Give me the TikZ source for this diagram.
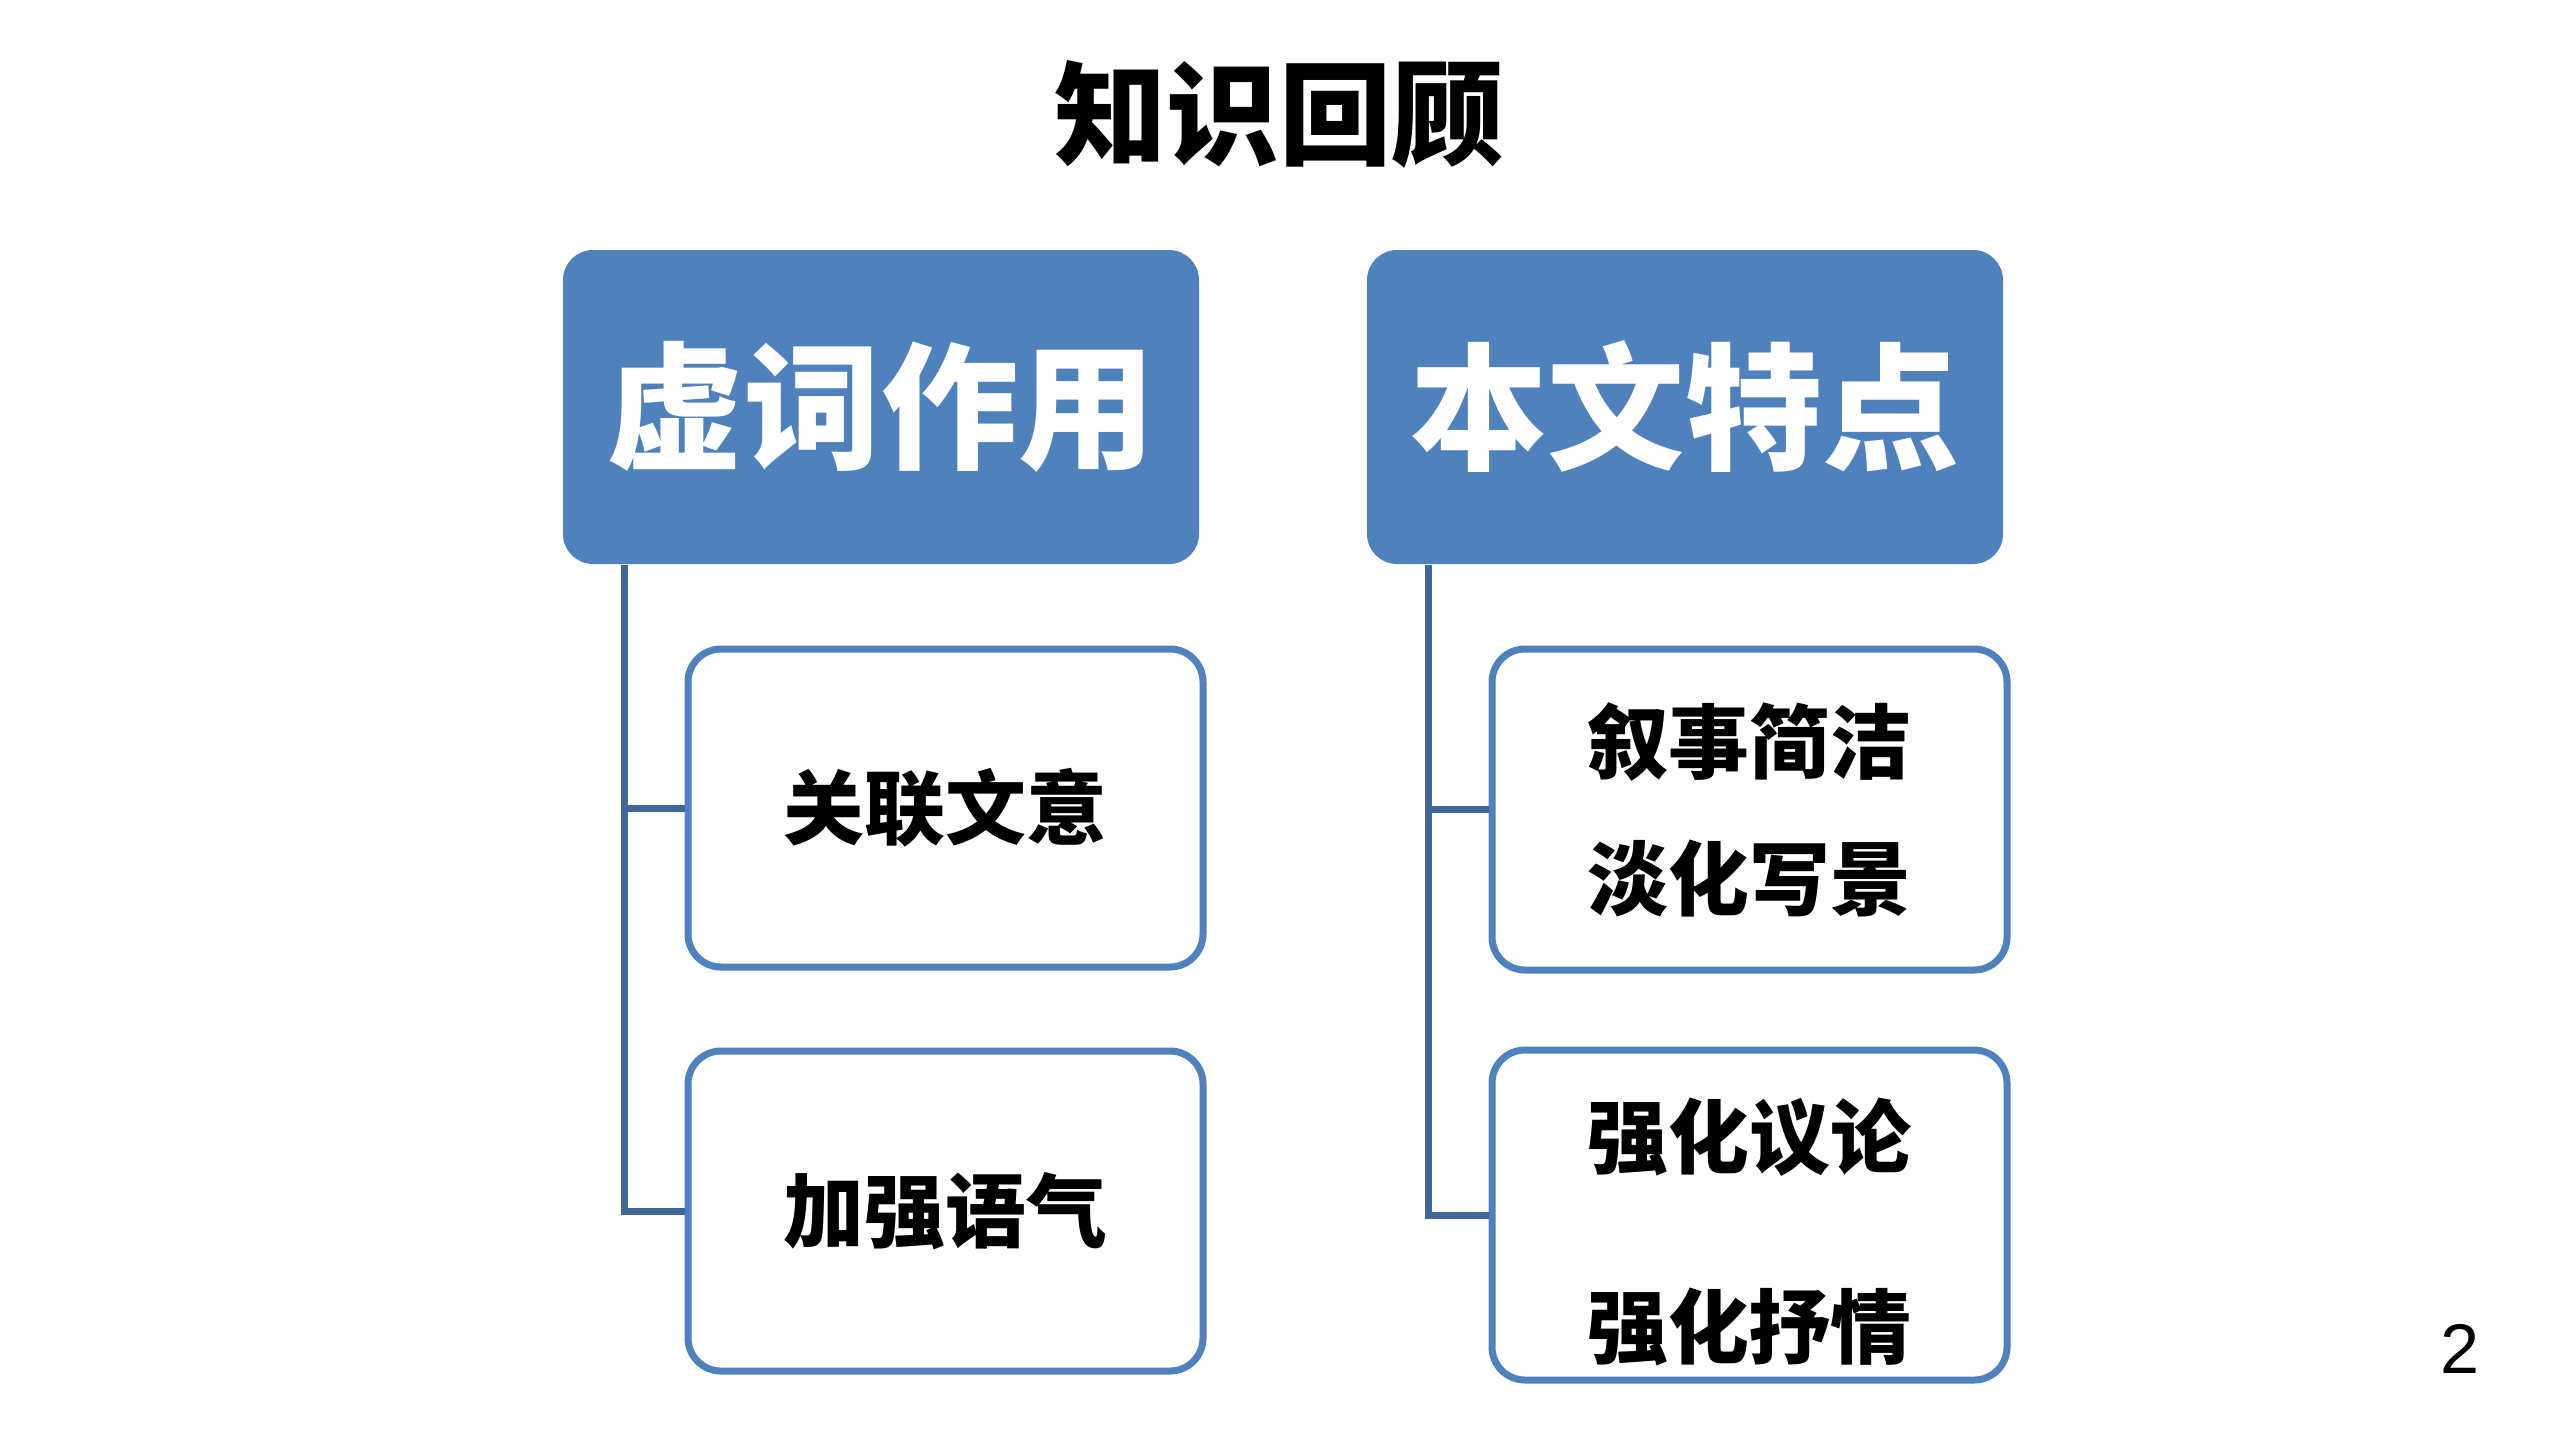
\documentclass[tikz,border=0pt]{standalone}
\usepackage{fontspec}
\setmainfont{Liberation Sans}
\newfontfamily\cjk{Noto Sans CJK SC}
\definecolor{hdrblue}{HTML}{4F81BD}
\definecolor{connblue}{HTML}{41669B}
\tikzset{
  titletext/.style={font=\cjk\bfseries\fontsize{32}{36}\selectfont, text=black, inner sep=0},
  headerbox/.style={rectangle, rounded corners=3mm, fill=hdrblue, draw=none, text=white,
    font=\cjk\bfseries\fontsize{39}{44}\selectfont, minimum width=6.36cm, minimum height=3.14cm, inner sep=0},
  childbox/.style={rectangle, rounded corners=3.3mm, draw=hdrblue, line width=0.7mm, fill=white,
    minimum width=5.15cm, inner sep=0, align=center},
  childtext/.style={font=\cjk\bfseries\fontsize{23}{39}\selectfont, text=black, align=center, inner sep=0},
  connline/.style={draw=connblue, line width=0.7mm},
  pagenum/.style={font=\fontsize{20}{24}\selectfont, text=black, inner sep=0}
}
\begin{document}
\begin{tikzpicture}[x=1cm,y=-1cm]
\fill[white] (0,0) rectangle (25.5,14.34);
\useasboundingbox (0,0) rectangle (25.5,14.34);

\node[titletext] (title) at (12.79,1.14) {知识回顾};

\node[headerbox] (h1) at (8.81,4.07) {虚词作用};
\node[headerbox] (h2) at (16.85,4.07) {本文特点};

\node[childbox, minimum height=3.18cm, childtext] (c1) at (9.455,8.08) {关联文意};
\node[childbox, minimum height=3.20cm, childtext] (c2) at (9.455,12.11) {加强语气};
\node[childbox, minimum height=3.21cm, childtext] (c3) at (17.495,8.095) {叙事简洁\\淡化写景};
\node[childbox, minimum height=3.30cm] (c4) at (17.495,12.15) {};
\node[childtext, font=\cjk\bfseries\fontsize{23}{54}\selectfont] (c4t) at ([yshift=-0.17cm]c4.center) {强化议论\\强化抒情};

\coordinate (lx) at (6.24,0);
\coordinate (rx) at (14.28,0);

\draw[connline] (h1.south -| lx) |- (c2.west);
\draw[connline] (c1.west -| lx) -- (c1.west);
\draw[connline] (h2.south -| rx) |- (c4.west);
\draw[connline] (c3.west -| rx) -- (c3.west);

\node[pagenum] (pn) at (24.60,13.49) {2};
\end{tikzpicture}
\end{document}
